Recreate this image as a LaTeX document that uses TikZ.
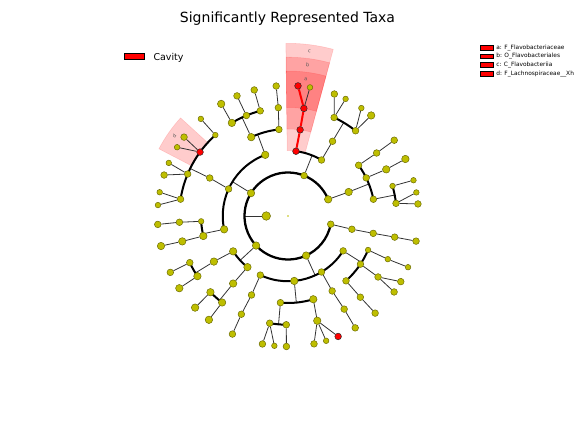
\documentclass[tikz,border=0pt]{standalone}
\usepackage{fontspec}
\setmainfont{DejaVu Sans}

\definecolor{cladeY}{RGB}{190,190,0}

\pgfdeclarelayer{wedge}
\pgfdeclarelayer{branches}
\pgfsetlayers{wedge,branches,main}

\tikzset{every picture/.style={line width=0.75pt}}
\tikzset{
  taxon/.style={circle, draw=cladeY!55!black, line width=0.35pt, fill=cladeY, inner sep=0pt, minimum size=5pt},
  taxonS/.style={taxon, minimum size=4.2pt},
  taxonB/.style={taxon, minimum size=5.6pt},
  taxonK/.style={taxon, minimum size=6.4pt},
  taxonR/.style={taxon, fill=red, draw=black!85},
  branch/.style={draw=black!80, line width=0.6pt},
  clade/.style={draw=black, line width=1.5pt},
  phylumring/.style={draw=black, line width=1.7pt},
  hitbranch/.style={draw=red, line width=1.5pt},
  hilite/.style={fill=red, fill opacity=0.2, draw=red, draw opacity=0.15, line width=0.4pt},
  hilabel/.style={font=\fontsize{3.8}{4}\selectfont, text=black!65, inner sep=0pt},
  keybox/.style={rectangle, fill=red, draw=black, line width=0.6pt, inner sep=0pt},
  keytext/.style={anchor=west, inner sep=0pt, font=\fontsize{4.4}{5}\selectfont},
}

\begin{document}
\begin{tikzpicture}[x=0.75pt,y=0.75pt,yscale=-1,xscale=1]
\useasboundingbox (0,0) rectangle (576,432);

% Text Node
\node[anchor=base, inner sep=0pt, font=\fontsize{10.5}{12}\selectfont] (title) at (287.5,22.3) {Significantly Represented Taxa};

%Legend: class
\node[keybox, minimum width=15pt, minimum height=4.6pt] (cavkey) at (134,56.6) {};
\node[anchor=base west, inner sep=0pt, font=\fontsize{7.1}{8}\selectfont] (cavtxt) at (153,60.2) {Cavity};

%Legend: biomarkers
\node[keybox, minimum width=9.6pt, minimum height=3.6pt] (keyA) at (486.5,47.5) {};
\node[keytext] (txtA) at (495.8,47.5) {a: F\_Flavobacteriaceae};
\node[keybox, minimum width=9.6pt, minimum height=3.6pt] (keyB) at (486.5,56.3) {};
\node[keytext] (txtB) at (495.8,56.3) {b: O\_Flavobacteriales};
\node[keybox, minimum width=9.6pt, minimum height=3.6pt] (keyC) at (486.5,65.1) {};
\node[keytext] (txtC) at (495.8,65.1) {c: C\_Flavobacteriia};
\node[keybox, minimum width=9.6pt, minimum height=3.6pt] (keyD) at (486.5,73.9) {};
\node[keytext] (txtD) at (495.8,73.9) {d: F\_Lachnospiraceae\_\_Xh};

\begin{scope}[shift={(288,216)}]
%Root and kingdom
\node[circle, fill=cladeY, inner sep=0pt, minimum size=1.2pt] (root) at (0,0) {};
\node[taxonK] (k) at (180:21.75) {};

%Phyla
\node[taxonB] (pA) at (-148.3:43.5) {};
\node[taxon] (pB) at (-68.3:43.5) {};
\node[taxonB] (pC) at (-22.5:43.5) {};
\node[taxon] (pF) at (10.9:43.5) {};
\node[taxonB] (pE) at (-294.6:43.5) {};
\node[taxonB] (pD) at (-222.8:43.5) {};

%Classes
\node[taxonB] (cA1) at (-110.4:65.25) {};
\node[taxon] (cA2) at (-155.5:65.25) {};
\node[taxonB] (cA3) at (-191.8:65.25) {};
\node[taxonB] (cD1) at (-212.8:65.25) {};
\node[taxonB] (cD2) at (-231.6:65.25) {};
\node[taxon] (cE1) at (-244.9:65.25) {};
\node[taxonB] (cE2) at (-275.5:65.25) {};
\node[taxon] (cE3) at (-300.9:65.25) {};
\node[taxon] (cE4) at (-327.7:65.25) {};
\node[taxon] (cF1) at (11.7:65.25) {};
\node[taxonB] (cC1) at (-21.6:65.25) {};
\node[taxonR] (cB1) at (-83:65.25) {};
\node[taxon] (cB2) at (-59.1:65.25) {};

%Orders
\node[taxonB] (oA1a) at (-115:87) {};
\node[taxon] (oA1b) at (-96:87) {};
\node[taxon] (oA2a) at (-154.1:87) {};
\node[taxonS] (oA3a) at (-183.5:87) {};
\node[taxonB] (oA3b) at (-193.3:87) {};
\node[taxonB] (oD1a) at (-211.6:87) {};
\node[taxonB] (oD2a) at (-230.9:87) {};
\node[taxon] (oE1a) at (-245.2:87) {};
\node[taxon] (oE2a) at (-265:87) {};
\node[taxonB] (oE2b) at (-286.9:87) {};
\node[taxon] (oE3a) at (-300.5:87) {};
\node[taxonS] (oE4a) at (-337:87) {};
\node[taxon] (oE4b) at (-326.4:87) {};
\node[taxon] (oE4c) at (-311.8:87) {};
\node[taxon] (oF1a) at (11.5:87) {};
\node[taxon] (oC1a) at (-35.7:87) {};
\node[taxon] (oC1b) at (-26:87) {};
\node[taxon] (oC1c) at (-11.1:87) {};
\node[taxonR] (oB1a) at (-82:87) {};
\node[taxon] (oB2a) at (-59.2:87) {};

%Families
\node[taxonB] (fA1a1) at (-121.1:108.75) {};
\node[taxon] (fA1a2) at (-112.5:108.75) {};
\node[taxon] (fA1a3) at (-104.8:108.75) {};
\node[taxon] (fA1b1) at (-95.1:108.75) {};
\node[taxonS] (fA2a1) at (-131.9:108.75) {};
\node[taxonR] (fA2a2) at (-144:108.75) {};
\node[taxon] (fA2a3) at (-157.3:108.75) {};
\node[taxon] (fA2a4) at (-171.1:108.75) {};
\node[taxon] (fA3a1) at (-183.3:108.75) {};
\node[taxonB] (fA3b1) at (-193.5:108.75) {};
\node[taxon] (fD1a1) at (-205.4:108.75) {};
\node[taxonB] (fD1a2) at (-213.6:108.75) {};
\node[taxonB] (fD2a1) at (-224.5:108.75) {};
\node[taxonB] (fD2a2) at (-232.7:108.75) {};
\node[taxon] (fE1a1) at (-244.6:108.75) {};
\node[taxon] (fE2a1) at (-260.3:108.75) {};
\node[taxon] (fE2a2) at (-269.1:108.75) {};
\node[taxonB] (fE2b1) at (-285.6:108.75) {};
\node[taxon] (fE3a1) at (-301.1:108.75) {};
\node[taxonS] (fE4a1) at (-336.6:108.75) {};
\node[taxon] (fE4b1) at (-325.9:108.75) {};
\node[taxon] (fE4c1) at (-311.7:108.75) {};
\node[taxon] (fF1a1) at (11.2:108.75) {};
\node[taxon] (fC1a1) at (-35.4:108.75) {};
\node[taxonB] (fC1b1) at (-25.4:108.75) {};
\node[taxonS] (fC1c1) at (-16:108.75) {};
\node[taxon] (fC1c2) at (-6.7:108.75) {};
\node[taxonR] (fB1a1) at (-81.6:108.75) {};
\node[taxon] (fB2a1) at (-64.9:108.75) {};
\node[taxon] (fB2a2) at (-51.6:108.75) {};

%Genera
\node[taxonB] (gA1a1a) at (-120.8:130.5) {};
\node[taxon] (gA1a2a) at (-113:130.5) {};
\node[taxon] (gA1a3a) at (-105:130.5) {};
\node[taxon] (gA1b1a) at (-95.2:130.5) {};
\node[taxonS] (gA2a1a) at (-131.9:130.5) {};
\node[taxon] (gA2a2a) at (-142.8:130.5) {};
\node[taxonS] (gA2a2b) at (-148.2:130.5) {};
\node[taxonS] (gA2a3a) at (-156:130.5) {};
\node[taxon] (gA2a3b) at (-161.7:130.5) {};
\node[taxonS] (gA2a4a) at (-169.5:130.5) {};
\node[taxonS] (gA2a4b) at (-175.2:130.5) {};
\node[taxon] (gA3a1a) at (-183.7:130.5) {};
\node[taxonB] (gA3b1a) at (-193.3:130.5) {};
\node[taxon] (gD1a1a) at (-205.6:130.5) {};
\node[taxonB] (gD1a2a) at (-213.6:130.5) {};
\node[taxonB] (gD2a1a) at (-224.6:130.5) {};
\node[taxonB] (gD2a2a) at (-232.7:130.5) {};
\node[taxon] (gE1a1a) at (-244.8:130.5) {};
\node[taxon] (gE2a1a) at (-258.7:130.5) {};
\node[taxonS] (gE2a1b) at (-264:130.5) {};
\node[taxon] (gE2a2a) at (-269.3:130.5) {};
\node[taxon] (gE2b1a) at (-281.5:130.5) {};
\node[taxonS] (gE2b1b) at (-287:130.5) {};
\node[taxonR] (gE2b1c) at (-292.6:130.5) {};
\node[taxon] (gE3a1a) at (-301:130.5) {};
\node[taxonS] (gE4a1a) at (-336.9:130.5) {};
\node[taxon] (gE4b1a) at (-329.8:130.5) {};
\node[taxon] (gE4b1b) at (-324.4:130.5) {};
\node[taxon] (gE4c1a) at (-311.9:130.5) {};
\node[taxon] (gF1a1a) at (11.1:130.5) {};
\node[taxon] (gC1a1a) at (-35.5:130.5) {};
\node[taxonB] (gC1b1a) at (-25.9:130.5) {};
\node[taxonS] (gC1c1a) at (-15.9:130.5) {};
\node[taxonS] (gC1c2a) at (-10.4:130.5) {};
\node[taxon] (gC1c2b) at (-5.3:130.5) {};
\node[taxonR] (gB1a1a) at (-85.6:130.5) {};
\node[taxonS] (gB1a1b) at (-80.3:130.5) {};
\node[taxon] (gB2a1a) at (-69.2:130.5) {};
\node[taxonS] (gB2a1b) at (-63.8:130.5) {};
\node[taxonS] (gB2a2a) at (-55.8:130.5) {};
\node[taxonB] (gB2a2b) at (-50.4:130.5) {};

%Highlighted clades
\begin{pgfonlayer}{wedge}
\path[hilite] (-90.7:65.5) arc[start angle=-90.7, end angle=-74.8, radius=65.5] -- (-74.8:172.7) arc[start angle=-74.8, end angle=-90.7, radius=172.7] -- cycle;
\path[hilite] (-90.7:87) arc[start angle=-90.7, end angle=-74.8, radius=87] -- (-74.8:158.8) arc[start angle=-74.8, end angle=-90.7, radius=158.8] -- cycle;
\path[hilite] (-90.7:108.5) arc[start angle=-90.7, end angle=-74.8, radius=108.5] -- (-74.8:145) arc[start angle=-74.8, end angle=-90.7, radius=145] -- cycle;
\path[hilite] (-152.5:108.75) arc[start angle=-152.5, end angle=-137.6, radius=108.75] -- (-137.6:145.5) arc[start angle=-137.6, end angle=-152.5, radius=145.5] -- cycle;
\end{pgfonlayer}
\node[hilabel, rotate=-7.4] (labA) at (-82.6:137.8) {a};
\node[hilabel, rotate=-7.4] (labB) at (-82.6:152.3) {b};
\node[hilabel, rotate=-7.4] (labC) at (-82.6:165.8) {c};
\node[hilabel, rotate=54.9] (labD) at (-144.9:139) {d};

\begin{pgfonlayer}{branches}
%Kingdom to phyla
\coordinate (xK) at (180:43.5);
\draw[branch] (k) -- (xK);
\draw[phylumring] (pC.center) arc[start angle=-22.5, end angle=-349.1, radius=43.5];

%Phylum A
\coordinate (xA) at (-148.3:65.25);
\draw[branch] (pA) -- (xA);
\draw[clade] (cA1.center) arc[start angle=-110.4, end angle=-191.8, radius=65.25];
\coordinate (xA1) at (-110.4:87);
\draw[branch] (cA1) -- (xA1);
\draw[clade] (oA1b.center) arc[start angle=-96, end angle=-115, radius=87];
\coordinate (xA1a) at (-115:108.75);
\draw[branch] (oA1a) -- (xA1a);
\draw[clade] (fA1a3.center) arc[start angle=-104.8, end angle=-121.1, radius=108.75];
\draw[branch] (fA1a1) -- (gA1a1a);
\draw[branch] (fA1a2) -- (gA1a2a);
\draw[branch] (fA1a3) -- (gA1a3a);
\draw[branch] (oA1b) -- (fA1b1) -- (gA1b1a);
\draw[branch] (cA2) -- (oA2a);
\coordinate (xA2a) at (-154.1:108.75);
\draw[branch] (oA2a) -- (xA2a);
\draw[clade] (fA2a1.center) arc[start angle=-131.9, end angle=-171.1, radius=108.75];
\draw[branch] (fA2a1) -- (gA2a1a);
\draw[branch] (fA2a2) -- (gA2a2a);
\draw[branch] (fA2a2) -- (gA2a2b);
\draw[branch] (fA2a3) -- (gA2a3a);
\draw[branch] (fA2a3) -- (gA2a3b);
\draw[branch] (fA2a4) -- (gA2a4a);
\draw[branch] (fA2a4) -- (gA2a4b);
\coordinate (xA3) at (-191.8:87);
\draw[branch] (cA3) -- (xA3);
\draw[clade] (oA3a.center) arc[start angle=-183.5, end angle=-193.3, radius=87];
\draw[branch] (oA3a) -- (fA3a1) -- (gA3a1a);
\draw[branch] (oA3b) -- (fA3b1) -- (gA3b1a);

%Phylum D
\coordinate (xD) at (-222.8:65.25);
\draw[branch] (pD) -- (xD);
\draw[clade] (cD1.center) arc[start angle=-212.8, end angle=-231.6, radius=65.25];
\draw[branch] (cD1) -- (oD1a);
\coordinate (xD1a) at (-211.6:108.75);
\draw[branch] (oD1a) -- (xD1a);
\draw[clade] (fD1a1.center) arc[start angle=-205.4, end angle=-213.6, radius=108.75];
\draw[branch] (fD1a1) -- (gD1a1a);
\draw[branch] (fD1a2) -- (gD1a2a);
\draw[branch] (cD2) -- (oD2a);
\coordinate (xD2a) at (-230.9:108.75);
\draw[branch] (oD2a) -- (xD2a);
\draw[clade] (fD2a1.center) arc[start angle=-224.5, end angle=-232.7, radius=108.75];
\draw[branch] (fD2a1) -- (gD2a1a);
\draw[branch] (fD2a2) -- (gD2a2a);

%Phylum E
\coordinate (xE) at (-294.6:65.25);
\draw[branch] (pE) -- (xE);
\draw[clade] (cE1.center) arc[start angle=-244.9, end angle=-327.7, radius=65.25];
\draw[branch] (cE1) -- (oE1a) -- (fE1a1) -- (gE1a1a);
\coordinate (xE2) at (-275.5:87);
\draw[branch] (cE2) -- (xE2);
\draw[clade] (oE2a.center) arc[start angle=-265, end angle=-286.9, radius=87];
\coordinate (xE2a) at (-265:108.75);
\draw[branch] (oE2a) -- (xE2a);
\draw[clade] (fE2a1.center) arc[start angle=-260.3, end angle=-269.1, radius=108.75];
\draw[branch] (fE2a1) -- (gE2a1a);
\draw[branch] (fE2a1) -- (gE2a1b);
\draw[branch] (fE2a2) -- (gE2a2a);
\draw[branch] (oE2b) -- (fE2b1);
\draw[branch] (fE2b1) -- (gE2b1a);
\draw[branch] (fE2b1) -- (gE2b1b);
\draw[branch] (fE2b1) -- (gE2b1c);
\draw[branch] (cE3) -- (oE3a) -- (fE3a1) -- (gE3a1a);
\coordinate (xE4) at (-327.7:87);
\draw[branch] (cE4) -- (xE4);
\draw[clade] (oE4c.center) arc[start angle=-311.8, end angle=-337, radius=87];
\draw[branch] (oE4a) -- (fE4a1) -- (gE4a1a);
\draw[branch] (oE4b) -- (fE4b1);
\draw[branch] (fE4b1) -- (gE4b1a);
\draw[branch] (fE4b1) -- (gE4b1b);
\draw[branch] (oE4c) -- (fE4c1) -- (gE4c1a);

%Phylum F
\draw[branch] (pF) -- (cF1) -- (oF1a) -- (fF1a1) -- (gF1a1a);

%Phylum C
\draw[branch] (pC) -- (cC1);
\coordinate (xC1) at (-21.6:87);
\draw[branch] (cC1) -- (xC1);
\draw[clade] (oC1a.center) arc[start angle=-35.7, end angle=-11.1, radius=87];
\draw[branch] (oC1a) -- (fC1a1) -- (gC1a1a);
\draw[branch] (oC1b) -- (fC1b1) -- (gC1b1a);
\coordinate (xC1c) at (-11.1:108.75);
\draw[branch] (oC1c) -- (xC1c);
\draw[clade] (fC1c1.center) arc[start angle=-16, end angle=-6.7, radius=108.75];
\draw[branch] (fC1c1) -- (gC1c1a);
\draw[branch] (fC1c2) -- (gC1c2a);
\draw[branch] (fC1c2) -- (gC1c2b);

%Phylum B
\coordinate (xB) at (-68.3:65.25);
\draw[branch] (pB) -- (xB);
\draw[clade] (cB1.center) arc[start angle=-83, end angle=-59.1, radius=65.25];
\draw[hitbranch] (cB1) -- (oB1a) -- (fB1a1) -- (gB1a1a);
\draw[branch] (fB1a1) -- (gB1a1b);
\draw[branch] (cB2) -- (oB2a);
\coordinate (xB2a) at (-59.2:108.75);
\draw[branch] (oB2a) -- (xB2a);
\draw[clade] (fB2a1.center) arc[start angle=-64.9, end angle=-51.6, radius=108.75];
\draw[branch] (fB2a1) -- (gB2a1a);
\draw[branch] (fB2a1) -- (gB2a1b);
\draw[branch] (fB2a2) -- (gB2a2a);
\draw[branch] (fB2a2) -- (gB2a2b);
\end{pgfonlayer}
\end{scope}

\end{tikzpicture}
\end{document}
